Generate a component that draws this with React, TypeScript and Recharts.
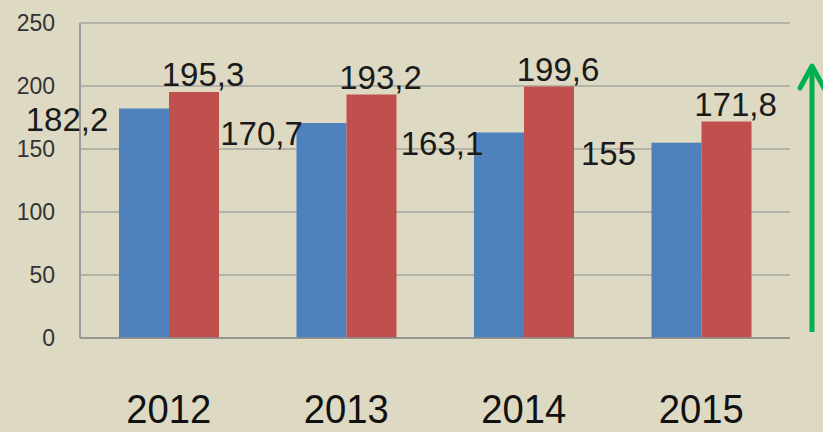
import React from 'react';
import { BarChart, Bar, XAxis, YAxis, CartesianGrid, LabelList } from 'recharts';

const years = ['2012', '2013', '2014', '2015'];
const blueValues = [182.2, 170.7, 163.1, 155];
const redValues = [195.3, 193.2, 199.6, 171.8];
const yTicks = [0, 50, 100, 150, 200, 250];

const data = years.map((year, i) => ({
  year,
  blue: blueValues[i],
  red: redValues[i],
}));

// how far left of the blue bar each blue label sits (hand placed in the original)
const BLUE_LABEL_SHIFT = [52, 35, 32, 43];

const FONT = '"Liberation Sans", Arial, sans-serif';
const fmt = (v: number) => String(v).replace('.', ',');

const BlueLabel = (props: any) => {
  const { x, y, value, index } = props;
  return (
    <text
      x={Number(x) - BLUE_LABEL_SHIFT[index ?? 0]}
      y={Number(y) + 11}
      textAnchor='middle'
      dominantBaseline='central'
      fontSize={33}
      fontFamily={FONT}
      fill='#1a1a1a'
    >
      {fmt(value)}
    </text>
  );
};

const RedLabel = (props: any) => {
  const { x, y, width, value } = props;
  return (
    <text
      x={Number(x) + Number(width) / 2 + 9}
      y={Number(y) - 6}
      textAnchor='middle'
      fontSize={33}
      fontFamily={FONT}
      fill='#1a1a1a'
    >
      {fmt(value)}
    </text>
  );
};

const YearTick = (props: any) => {
  const { x, y, payload } = props;
  return (
    <text
      x={x}
      y={Number(y) + 85}
      textAnchor='middle'
      fontSize={40}
      fontFamily={FONT}
      fill='#111'
      textLength={85}
      lengthAdjust='spacingAndGlyphs'
    >
      {payload.value}
    </text>
  );
};

const App = () => {
  return (
    <div
      style={{
        position: 'fixed',
        left: 0,
        top: 0,
        width: 823,
        height: 432,
        background: '#ddd9c3',
      }}
    >
      <BarChart
        width={823}
        height={432}
        data={data}
        margin={{ top: 23, right: 33, bottom: 0, left: 0 }}
        barGap={0}
        barSize={50}
      >
        <CartesianGrid vertical={false} stroke='#8c8c8c' />
        <XAxis
          dataKey='year'
          height={94}
          axisLine={{ stroke: '#8c8c8c', strokeWidth: 1.5 }}
          tickLine={false}
          tickSize={0}
          tickMargin={0}
          tick={<YearTick />}
        />
        <YAxis
          domain={[0, 250]}
          ticks={yTicks}
          width={80}
          axisLine={{ stroke: '#9a9a9a', strokeWidth: 2 }}
          tickLine={false}
          tickSize={0}
          tickMargin={25}
          tick={{ fontSize: 23, fill: '#333', fontFamily: FONT }}
        />
        <Bar dataKey='blue' fill='#4f81bd' isAnimationActive={false}>
          <LabelList dataKey='blue' content={<BlueLabel />} />
        </Bar>
        <Bar dataKey='red' fill='#c0504d' isAnimationActive={false}>
          <LabelList dataKey='red' content={<RedLabel />} />
        </Bar>
      </BarChart>
      <svg
        width={823}
        height={432}
        style={{ position: 'absolute', left: 0, top: 0, pointerEvents: 'none' }}
      >
        <line x1={812} y1={332} x2={812} y2={66} stroke='#00b050' strokeWidth={5} />
        <polyline
          points='800,88 812,66 824,88'
          fill='none'
          stroke='#00b050'
          strokeWidth={5}
          strokeLinecap='round'
          strokeLinejoin='round'
        />
      </svg>
    </div>
  );
};

export default App;
